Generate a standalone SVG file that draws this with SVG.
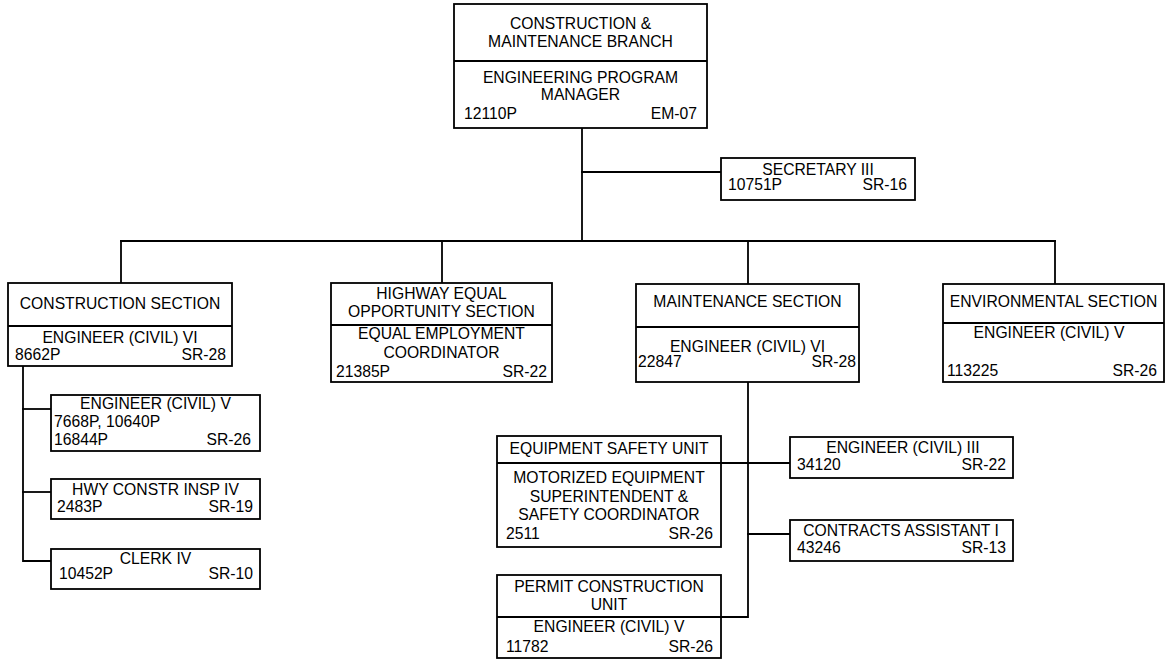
<svg xmlns="http://www.w3.org/2000/svg" width="1165" height="659" viewBox="0 0 1165 659">
  <style>
    .box { fill: #ffffff; stroke: #000000; stroke-width: 1.8; }
    .rule { stroke: #000000; stroke-width: 1.8; fill: none; }
    .link { stroke: #000000; stroke-width: 1.8; fill: none; stroke-linecap: square; }
    text { font-family: "Liberation Sans", Arial, sans-serif; font-size: 15.7px; fill: #000000; }
    .c { text-anchor: middle; }
    .r { text-anchor: end; }
  </style>

  <!-- connectors -->
  <g id="connectors">
    <path class="link" d="M582,128 V241"/>
    <path class="link" d="M582,172 H721"/>
    <path class="link" d="M121,241 H1055"/>
    <path class="link" d="M121,241 V283"/>
    <path class="link" d="M442,241 V283"/>
    <path class="link" d="M748,241 V284"/>
    <path class="link" d="M1055,241 V284"/>
    <path class="link" d="M23,366 V561 H51"/>
    <path class="link" d="M23,409 H51"/>
    <path class="link" d="M23,492 H51"/>
    <path class="link" d="M748,382 V617 H721"/>
    <path class="link" d="M721,463 H790"/>
    <path class="link" d="M748,534 H790"/>
  </g>

  <!-- branch head -->
  <g id="branch">
    <rect class="box" x="454" y="4" width="253" height="124"/>
    <line class="rule" x1="454" y1="61" x2="707" y2="61"/>
    <text class="c" x="580.5" y="29">CONSTRUCTION &amp;</text>
    <text class="c" x="580.5" y="47">MAINTENANCE BRANCH</text>
    <text class="c" x="580.5" y="83">ENGINEERING PROGRAM</text>
    <text class="c" x="580.5" y="100">MANAGER</text>
    <text x="464" y="119">12110P</text>
    <text class="r" x="697" y="119">EM-07</text>
  </g>

  <g id="secretary">
    <rect class="box" x="721" y="158" width="194" height="42"/>
    <text class="c" x="818" y="175">SECRETARY III</text>
    <text x="728" y="190">10751P</text>
    <text class="r" x="907" y="190">SR-16</text>
  </g>

  <!-- sections -->
  <g id="construction-section">
    <rect class="box" x="8" y="283" width="224" height="83"/>
    <line class="rule" x1="8" y1="326" x2="232" y2="326"/>
    <text class="c" x="120" y="309">CONSTRUCTION SECTION</text>
    <text class="c" x="120" y="343">ENGINEER (CIVIL) VI</text>
    <text x="15" y="360">8662P</text>
    <text class="r" x="226" y="360">SR-28</text>
  </g>

  <g id="highway-section">
    <rect class="box" x="331" y="283" width="221" height="99"/>
    <line class="rule" x1="331" y1="325" x2="552" y2="325"/>
    <text class="c" x="441.5" y="299">HIGHWAY EQUAL</text>
    <text class="c" x="441.5" y="317">OPPORTUNITY SECTION</text>
    <text class="c" x="441.5" y="339">EQUAL EMPLOYMENT</text>
    <text class="c" x="441.5" y="358">COORDINATOR</text>
    <text x="336" y="377">21385P</text>
    <text class="r" x="547" y="377">SR-22</text>
  </g>

  <g id="maintenance-section">
    <rect class="box" x="636" y="284" width="223" height="98"/>
    <line class="rule" x1="636" y1="327" x2="859" y2="327"/>
    <text class="c" x="747.5" y="307">MAINTENANCE SECTION</text>
    <text class="c" x="747.5" y="352">ENGINEER (CIVIL) VI</text>
    <text x="638" y="367">22847</text>
    <text class="r" x="856" y="367">SR-28</text>
  </g>

  <g id="environmental-section">
    <rect class="box" x="943" y="284" width="221" height="98"/>
    <line class="rule" x1="943" y1="323" x2="1164" y2="323"/>
    <text class="c" x="1053.5" y="307">ENVIRONMENTAL SECTION</text>
    <text class="c" x="1049" y="338">ENGINEER (CIVIL) V</text>
    <text x="947" y="376">113225</text>
    <text class="r" x="1157" y="376">SR-26</text>
  </g>

  <!-- construction staff -->
  <g id="engineer-civil-v">
    <rect class="box" x="51" y="395" width="209" height="56"/>
    <text class="c" x="155.5" y="409">ENGINEER (CIVIL) V</text>
    <text x="54" y="427">7668P, 10640P</text>
    <text x="54" y="445">16844P</text>
    <text class="r" x="251" y="445">SR-26</text>
  </g>

  <g id="hwy-constr-insp">
    <rect class="box" x="51" y="479" width="209" height="40"/>
    <text class="c" x="155.5" y="495">HWY CONSTR INSP IV</text>
    <text x="57" y="512">2483P</text>
    <text class="r" x="253" y="512">SR-19</text>
  </g>

  <g id="clerk">
    <rect class="box" x="51" y="549" width="209" height="40"/>
    <text class="c" x="155.5" y="564">CLERK IV</text>
    <text x="59" y="579">10452P</text>
    <text class="r" x="253" y="579">SR-10</text>
  </g>

  <!-- maintenance units and staff -->
  <g id="equipment-safety-unit">
    <rect class="box" x="497" y="436" width="224" height="111"/>
    <line class="rule" x1="497" y1="463" x2="721" y2="463"/>
    <text class="c" x="609" y="454">EQUIPMENT SAFETY UNIT</text>
    <text class="c" x="609" y="483">MOTORIZED EQUIPMENT</text>
    <text class="c" x="609" y="502">SUPERINTENDENT &amp;</text>
    <text class="c" x="609" y="520">SAFETY COORDINATOR</text>
    <text x="506" y="539">2511</text>
    <text class="r" x="713" y="539">SR-26</text>
  </g>

  <g id="permit-construction-unit">
    <rect class="box" x="497" y="575" width="224" height="83"/>
    <line class="rule" x1="497" y1="617" x2="721" y2="617"/>
    <text class="c" x="609" y="592">PERMIT CONSTRUCTION</text>
    <text class="c" x="609" y="610">UNIT</text>
    <text class="c" x="609" y="632">ENGINEER (CIVIL) V</text>
    <text x="506" y="652">11782</text>
    <text class="r" x="713" y="652">SR-26</text>
  </g>

  <g id="engineer-civil-iii">
    <rect class="box" x="790" y="437" width="223" height="41"/>
    <text class="c" x="903" y="453">ENGINEER (CIVIL) III</text>
    <text x="797" y="470">34120</text>
    <text class="r" x="1006" y="470">SR-22</text>
  </g>

  <g id="contracts-assistant">
    <rect class="box" x="790" y="520" width="223" height="41"/>
    <text class="c" x="901" y="536">CONTRACTS ASSISTANT I</text>
    <text x="797" y="553">43246</text>
    <text class="r" x="1006" y="553">SR-13</text>
  </g>
</svg>
